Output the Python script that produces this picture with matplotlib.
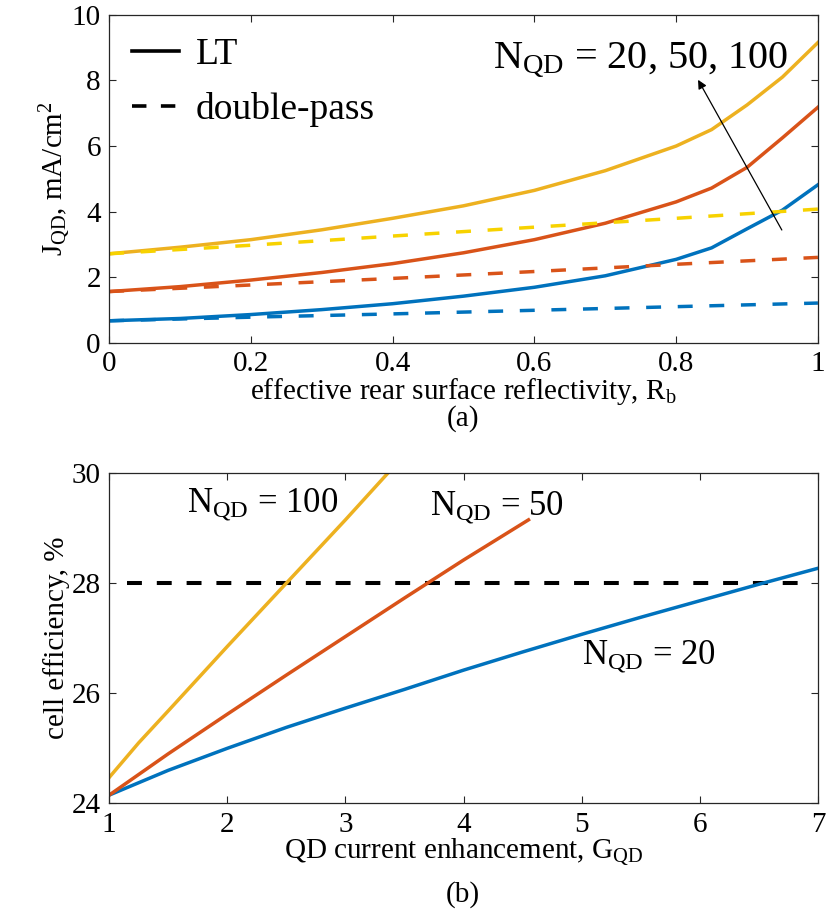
import numpy as np
import matplotlib
matplotlib.use('Agg')
import matplotlib.pyplot as plt
from matplotlib.lines import Line2D

plt.rcParams['font.family'] = 'Liberation Serif'
plt.rcParams['mathtext.fontset'] = 'custom'
plt.rcParams['mathtext.rm'] = 'Liberation Serif'
plt.rcParams['mathtext.it'] = 'Liberation Serif:italic'

c_blue = '#0072BD'
c_red = '#D95319'
c_yel = '#EDB120'
c_yel_dash = '#F7D200'

# (a) current density vs rear reflectivity
Rb = [0, 0.1, 0.2, 0.3, 0.4, 0.5, 0.6, 0.7, 0.8, 0.85, 0.9, 0.95, 1.0]
J_LT_100 = [2.72, 2.92, 3.15, 3.45, 3.80, 4.18, 4.65, 5.25, 6.00, 6.50, 7.25, 8.10, 9.15]
J_LT_50 = [1.57, 1.72, 1.92, 2.15, 2.42, 2.75, 3.15, 3.65, 4.30, 4.72, 5.35, 6.25, 7.18]
J_LT_20 = [0.68, 0.75, 0.87, 1.02, 1.20, 1.43, 1.70, 2.05, 2.55, 2.90, 3.48, 4.05, 4.82]

Rb_dp = [0, 0.2, 0.4, 0.6, 0.8, 1.0]
J_dp_100 = [2.72, 2.98, 3.26, 3.53, 3.80, 4.08]
J_dp_50 = [1.57, 1.77, 1.97, 2.18, 2.40, 2.61]
J_dp_20 = [0.68, 0.79, 0.89, 1.00, 1.11, 1.22]

# (b) cell efficiency vs QD current enhancement
G_100 = [1.0, 1.25, 1.5, 2.0, 2.5, 3.0, 3.36]
eff_100 = [24.47, 25.10, 25.68, 26.85, 28.00, 29.15, 30.0]
G_50 = [1.0, 1.5, 2.0, 2.5, 3.0, 3.5, 4.0, 4.55]
eff_50 = [24.15, 24.90, 25.62, 26.33, 27.03, 27.73, 28.42, 29.15]
G_20 = [1.0, 1.5, 2.0, 2.5, 3.0, 3.5, 4.0, 4.5, 5.0, 5.5, 6.0, 6.5, 7.0]
eff_20 = [24.15, 24.60, 25.00, 25.38, 25.73, 26.07, 26.42, 26.75, 27.07, 27.38, 27.68, 27.98, 28.27]
G_ref = [1.15, 6.95]
eff_ref = [28, 28]

fig = plt.figure(figsize=(8.27, 9.15), dpi=100)
ax1 = fig.add_axes([0.132, 0.625, 0.857, 0.359])
ax2 = fig.add_axes([0.132, 0.122, 0.857, 0.361])

lw = 2.5
dsh = (4.3, 4.8)
ax1.plot(Rb, J_LT_20, color=c_blue, lw=lw)
ax1.plot(Rb, J_LT_50, color=c_red, lw=lw)
ax1.plot(Rb, J_LT_100, color=c_yel, lw=lw)
ax1.plot(Rb_dp, J_dp_20, color=c_blue, lw=lw, dashes=dsh)
ax1.plot(Rb_dp, J_dp_50, color=c_red, lw=lw, dashes=dsh)
ax1.plot(Rb_dp, J_dp_100, color=c_yel_dash, lw=lw, dashes=dsh)

ax1.set_xlim(0, 1)
ax1.set_ylim(0, 10)
ax1.set_xticks([0, 0.2, 0.4, 0.6, 0.8, 1])
ax1.set_xticklabels(['0', '0.2', '0.4', '0.6', '0.8', '1'])
ax1.set_yticks([0, 2, 4, 6, 8, 10])
ax1.set_xlabel(r'effective rear surface reflectivity, R$_{\rm b}$', fontsize=21, labelpad=-1)
ax1.set_ylabel(r'J$_{\rm QD}$, mA/cm$^{2}$', fontsize=21, labelpad=-1)

handles = [Line2D([], [], color='k', lw=2.6),
           Line2D([], [], color='k', lw=2.6, dashes=(4.0, 4.0))]
ax1.legend(handles, ['LT', 'double-pass'], loc='upper left', frameon=False,
           fontsize=27, handlelength=1.25, handletextpad=0.45, labelspacing=0.55,
           borderaxespad=0.3, borderpad=0.3)

ax1.text(0.541, 8.38, r'N$_{\rm QD}$ = 20, 50, 100', fontsize=29, ha='left', va='baseline')
ax1.annotate('', xy=(0.829, 8.09), xytext=(0.951, 3.37),
             arrowprops=dict(arrowstyle='-|>', color='k', lw=0.9, mutation_scale=13))

ax2.plot(G_ref, eff_ref, color='k', lw=2.9, dashes=(3.7, 3.7))
ax2.plot(G_20, eff_20, color=c_blue, lw=lw)
ax2.plot(G_50, eff_50, color=c_red, lw=lw)
ax2.plot(G_100, eff_100, color=c_yel, lw=lw)

ax2.set_xlim(1, 7)
ax2.set_ylim(24, 30)
ax2.set_xticks([1, 2, 3, 4, 5, 6, 7])
ax2.set_yticks([24, 26, 28, 30])
ax2.set_xlabel(r'QD current enhancement, G$_{\rm QD}$', fontsize=21, labelpad=-1)
ax2.set_ylabel('cell efficiency, %', fontsize=21, labelpad=1)

ax2.text(1.66, 29.31, r'N$_{\rm QD}$ = 100', fontsize=25, ha='left', va='baseline')
ax2.text(3.72, 29.24, r'N$_{\rm QD}$ = 50', fontsize=25, ha='left', va='baseline')
ax2.text(5.0, 26.55, r'N$_{\rm QD}$ = 20', fontsize=25, ha='left', va='baseline')

for ax in (ax1, ax2):
    ax.tick_params(direction='in', length=5, width=0.8, top=True, right=True,
                   labelsize=21, pad=6, colors='#262626', labelcolor='k')
    for s in ax.spines.values():
        s.set_color('#262626')
        s.set_linewidth(0.9)

fig.text(0.56, 1 - 419 / 915, '(a)', fontsize=21, ha='center', va='center')
fig.text(0.56, 1 - 895 / 915, '(b)', fontsize=21, ha='center', va='center')

fig.savefig('out.png', dpi=100)
